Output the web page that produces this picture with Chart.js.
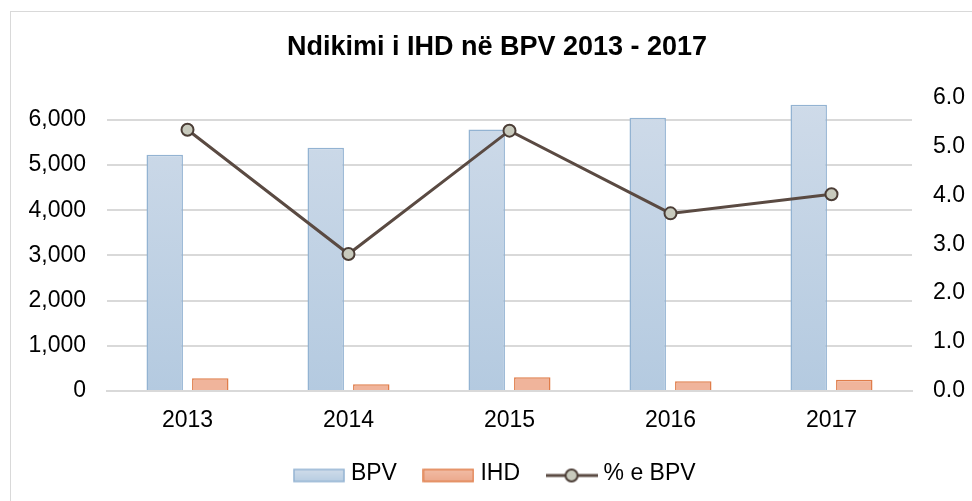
<!DOCTYPE html>
<html>
<head>
<meta charset="utf-8">
<script src="https://cdn.jsdelivr.net/npm/chart.js@4/dist/chart.umd.min.js"></script>
<style>
  html, body { margin: 0; padding: 0; background: #fff; }
  #wrap { position: relative; width: 972px; height: 501px; }
  #frame { position: absolute; left: 10px; top: 11px; width: 990px; height: 520px; border: 1px solid #d9d9d9; box-sizing: border-box; }
  canvas { position: absolute; left: 0; top: 0; }
</style>
</head>
<body>
<div id="wrap">
  <div id="frame"></div>
  <canvas id="chart" width="972" height="501"></canvas>
</div>
<script>
const years = ['2013', '2014', '2015', '2016', '2017'];
const bpv = [5230, 5385, 5790, 6050, 6335];
const ihd = [280, 150, 305, 215, 250];
const ihdShare = [5.34, 2.80, 5.32, 3.63, 4.02];
const leftTicks = [0, 1000, 2000, 3000, 4000, 5000, 6000];

const FONT = 'Liberation Sans, Arial, sans-serif';

function barGradient(top, bottom) {
  return (ctx) => {
    const area = ctx.chart.chartArea;
    if (!area) return top;
    const g = ctx.chart.ctx.createLinearGradient(0, area.top, 0, area.bottom);
    g.addColorStop(0, top);
    g.addColorStop(1, bottom);
    return g;
  };
}

// legend icons are drawn on small canvases (52px wide, like the reference swatches)
function swatch(draw) {
  const c = document.createElement('canvas');
  c.width = 52;
  c.height = 20;
  draw(c.getContext('2d'));
  return c;
}

function boxSwatch(top, bottom, border) {
  return swatch((g) => {
    const grad = g.createLinearGradient(0, 6, 0, 18);
    grad.addColorStop(0, top);
    grad.addColorStop(1, bottom);
    g.fillStyle = grad;
    g.fillRect(1, 6, 50, 12);
    g.strokeStyle = border;
    g.lineWidth = 1.5;
    g.strokeRect(1, 6, 50, 12);
  });
}

const lineSwatch = swatch((g) => {
  g.strokeStyle = '#5a4a42';
  g.lineWidth = 3;
  g.beginPath();
  g.moveTo(0, 12);
  g.lineTo(52, 12);
  g.stroke();
  g.beginPath();
  g.arc(26, 12, 6, 0, Math.PI * 2);
  g.fillStyle = '#c8cabd';
  g.fill();
  g.lineWidth = 2;
  g.strokeStyle = '#4b3d36';
  g.stroke();
});

const legendIcons = [
  boxSwatch('#d0dcea', '#b7cde2', '#93b3d2'),
  boxSwatch('#f2bca5', '#eca98c', '#e07d4a'),
  lineSwatch,
];

new Chart(document.getElementById('chart'), {
  type: 'bar',
  data: {
    labels: years,
    datasets: [
      {
        label: 'BPV',
        data: bpv,
        backgroundColor: barGradient('#cfdbe9', '#b4cae0'),
        borderColor: '#93b3d2',
        borderWidth: 1.5,
        yAxisID: 'y',
        order: 2,
      },
      {
        label: 'IHD',
        data: ihd,
        backgroundColor: '#f0b49b',
        borderColor: '#e07d4a',
        borderWidth: 1.5,
        yAxisID: 'y',
        order: 2,
      },
      {
        type: 'line',
        label: '% e BPV',
        data: ihdShare,
        borderColor: '#5a4a42',
        borderWidth: 3,
        pointRadius: 6,
        pointBackgroundColor: '#c8cabd',
        pointBorderColor: '#4b3d36',
        pointBorderWidth: 2,
        yAxisID: 'y1',
        order: 1,
      },
    ],
  },
  options: {
    responsive: false,
    animation: false,
    categoryPercentage: 0.566,
    barPercentage: 0.8,
    layout: { padding: { top: 12, left: 29, right: 7, bottom: 6 } },
    plugins: {
      tooltip: { enabled: false },
      title: {
        display: true,
        text: 'Ndikimi i IHD në BPV 2013 - 2017',
        color: '#000',
        font: { family: FONT, size: 27, weight: 'bold' },
        padding: { top: 19, bottom: 34 },
      },
      legend: {
        position: 'bottom',
        labels: {
          color: '#000',
          font: { family: FONT, size: 23 },
          usePointStyle: true,
          pointStyleWidth: 41,
          boxHeight: 13,
          padding: 31,
          generateLabels: (chart) => chart.data.datasets.map((ds, i) => ({
            text: ds.label,
            pointStyle: legendIcons[i],
            datasetIndex: i,
            hidden: false,
            lineWidth: 0,
          })),
        },
      },
    },
    scales: {
      x: {
        afterFit: (scale) => { scale.height = 40; },
        grid: { display: false, drawTicks: false },
        border: { color: '#d9d9d9', width: 2 },
        ticks: { color: '#000', font: { family: FONT, size: 23 }, padding: 16 },
      },
      y: {
        position: 'left',
        min: 0,
        max: 6500,
        afterBuildTicks: (scale) => {
          scale.ticks = leftTicks.map((v) => ({ value: v }));
        },
        afterFit: (scale) => { scale.width = 78; },
        grid: { color: '#d9d9d9', lineWidth: 2, drawTicks: false },
        border: { display: false },
        ticks: {
          color: '#000',
          font: { family: FONT, size: 23 },
          padding: 21,
          callback: (v) => Number(v).toLocaleString('en-US'),
        },
      },
      y1: {
        position: 'right',
        min: 0,
        max: 6,
        afterFit: (scale) => { scale.width = 53; },
        grid: { display: false, drawTicks: false },
        border: { display: false },
        ticks: {
          stepSize: 1,
          color: '#000',
          font: { family: FONT, size: 23 },
          padding: 21,
          callback: (v) => Number(v).toFixed(1),
        },
      },
    },
  },
});
</script>
</body>
</html>
